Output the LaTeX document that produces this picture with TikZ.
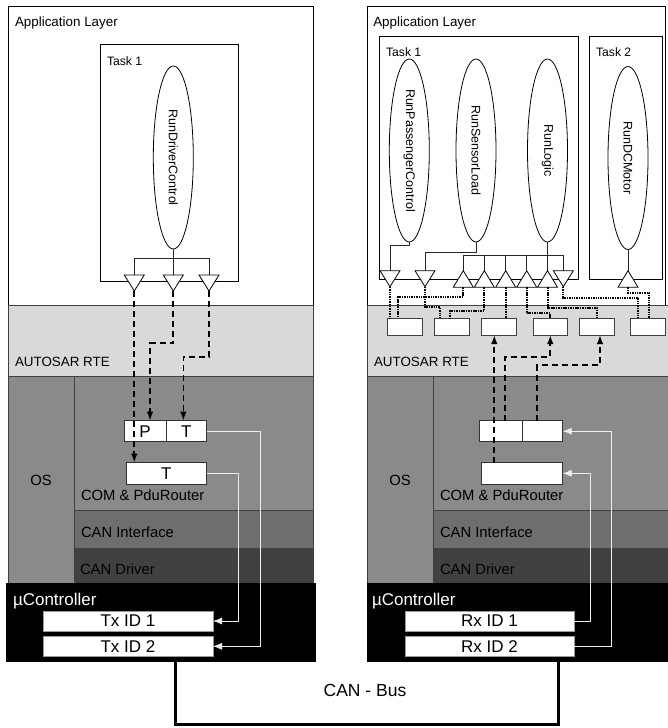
\documentclass[tikz,border=0pt]{standalone}
\usepackage{fontspec}
\setmainfont{Liberation Sans}
\usetikzlibrary{shapes.geometric,arrows.meta,calc}
\definecolor{rtegray}{HTML}{D9D9D9}
\definecolor{osgray}{HTML}{8A8A8A}
\definecolor{cifgray}{HTML}{6E6E6E}
\definecolor{drvgray}{HTML}{414141}
\definecolor{sigcol}{HTML}{EEEEEE}
\newcommand\sz[1]{\fontsize{#1}{#1}\selectfont}
\tikzset{
  layerline/.style={draw=black!75, line width=0.7pt},
  appline/.style={draw=black, line width=0.8pt, fill=white},
  lbl/.style={anchor=base west, inner sep=0pt, outer sep=0pt},
  proc/.style={ellipse, draw=black, fill=white, line width=0.8pt, rotate=-90, minimum width=183pt, minimum height=40pt, inner sep=0pt, font=\sz{12.5}},
  port/.style={draw=black!75, fill=white, line width=0.8pt, minimum width=34.6pt, minimum height=17pt, inner sep=0pt, outer sep=0pt},
  combox/.style={draw=black!80, fill=white, line width=0.8pt, minimum height=21pt, inner sep=0pt, outer sep=0pt, font=\sz{17}},
  idbox/.style={draw=black!40, fill=white, line width=0.6pt, minimum height=20pt, inner sep=0pt, outer sep=0pt, font=\sz{17}},
  wire/.style={draw=black!85, line width=0.8pt},
  tristyle/.style={draw=black, fill=white, line width=0.8pt, line join=miter},
  dotwire/.style={draw=black, line width=2pt, dash pattern=on 1.5pt off 0.9pt},
  dashwire/.style={draw=black, line width=1.7pt, dash pattern=on 6pt off 4pt, -{Latex[length=9pt,width=6.5pt]}},
  sigwire/.style={draw=sigcol, line width=0.8pt, -{Latex[length=9pt,width=7pt]}},
  buswire/.style={draw=black, line width=3pt, line join=miter},
  downtri/.pic={\draw[tristyle] (-10,0) -- (10,0) -- (0,16) -- cycle;
     \coordinate (-in) at (0,0); \coordinate (-out) at (0,16);},
  uptri/.pic={\draw[tristyle] (0,0) -- (10,16.5) -- (-10,16.5) -- cycle;
     \coordinate (-in) at (0,0); \coordinate (-out) at (0,16.5);},
}
\begin{document}
\begin{tikzpicture}[x=1pt,y=-1pt]
\useasboundingbox (0,0) rectangle (667,728);

% ================= LEFT ECU =================
\draw[appline] (8,6) rectangle (313,305);
\draw[layerline, fill=rtegray] (8,305) rectangle (313,376);
\draw[layerline, fill=osgray] (8,376) rectangle (74,583);
\draw[layerline, fill=osgray] (74,376) rectangle (313,510);
\draw[layerline, fill=cifgray] (74,510) rectangle (313,548);
\draw[layerline, fill=drvgray] (74,548) rectangle (313,583);
\fill[black] (6,583) rectangle (316,662);

\node[lbl, font=\sz{13.4}] (lapp) at (15,26.7) {Application Layer};
\draw[appline] (100,44) rectangle (238,281.7);
\node[lbl, font=\sz{12.2}] (ltask) at (107,65) {Task 1};
\node[proc] (rdc) at (173.3,157.5) {RunDriverControl};
\node[lbl, font=\sz{13.4}] (lrte) at (15,366.7) {AUTOSAR RTE};
\node[anchor=base, inner sep=0pt, font=\sz{14.8}] (los) at (41,485) {OS};
\node[lbl, font=\sz{14.8}] (lcom) at (81,500) {COM \& PduRouter};
\node[lbl, font=\sz{14.8}] (lcif) at (81,537.3) {CAN Interface};
\node[lbl, font=\sz{14.8}] (ldrv) at (80,574.3) {CAN Driver};
\node[lbl, font=\sz{17}, text=white] (lmc) at (13,605.7) {µController};

\coordinate (lt1) at (134.3,275);
\coordinate (lt2) at (173.3,275);
\coordinate (lt3) at (209,275);
\draw[wire] (rdc.east) -- (lt2);
\draw[wire] (lt1) -- ++(0,-17) -| (lt3);
\pic (dt1) at (lt1) {downtri};
\pic (dt2) at (lt2) {downtri};
\pic (dt3) at (lt3) {downtri};

\node[combox, minimum width=42pt] (pP) at (145,431.2) {P};
\node[combox, minimum width=40.7pt] (pT) at (186.35,431.2) {T};
\node[combox, minimum width=80.7pt, minimum height=21.3pt] (tlow) at (166.3,473.3) {T};

\draw[dashwire] (dt1-out) -- (dt1-out |- tlow.north);
\draw[dashwire] (dt2-out) -- ++(0,52.3) -| ([xshift=5pt]pP.north);
\draw[dashwire] (dt3-out) -- ++(0,65.7) -| ([xshift=-3pt]pT.north);

\node[idbox, minimum width=170pt] (tx1) at (128,621) {Tx ID 1};
\node[idbox, minimum width=170pt, minimum height=19.3pt] (tx2) at (128,646.3) {Tx ID 2};

\draw[sigwire] (pT.east) -- ++(53.3,0) |- (tx2.east);
\draw[sigwire] (tlow.east) -- ++(31.6,0) |- (tx1.east);

% ================= RIGHT ECU =================
\draw[appline] (367.7,6) rectangle (665,305);
\draw[layerline, fill=rtegray] (367.7,305) rectangle (668,376);
\draw[layerline, fill=osgray] (367.7,376) rectangle (433.3,583);
\draw[layerline, fill=osgray] (433.3,376) rectangle (668,510);
\draw[layerline, fill=cifgray] (433.3,510) rectangle (668,548);
\draw[layerline, fill=drvgray] (433.3,548) rectangle (668,583);
\fill[black] (366.5,583) rectangle (668,662);

\node[lbl, font=\sz{13.4}] (rapp) at (373.3,26) {Application Layer};
\draw[appline] (379.3,36.7) rectangle (578.3,279.3);
\draw[appline] (589.3,36.7) rectangle (662.7,279.3);
\node[lbl, font=\sz{12.2}] (rtask1) at (386,56) {Task 1};
\node[lbl, font=\sz{12.2}] (rtask2) at (596,56) {Task 2};
\node[proc] (rpc) at (409.3,150.5) {RunPassengerControl};
\node[proc] (rsl) at (476,150.5) {RunSensorLoad};
\node[proc] (rlg) at (547.5,150.5) {RunLogic};
\node[proc] (rdm) at (628,158) {RunDCMotor};
\node[lbl, font=\sz{13.4}] (rrte) at (374,366.7) {AUTOSAR RTE};
\node[anchor=base, inner sep=0pt, font=\sz{14.8}] (ros) at (400,485) {OS};
\node[lbl, font=\sz{14.8}] (rcom) at (440,500) {COM \& PduRouter};
\node[lbl, font=\sz{14.8}] (rcif) at (440,537.3) {CAN Interface};
\node[lbl, font=\sz{14.8}] (rdrv) at (440,574.3) {CAN Driver};
\node[lbl, font=\sz{17}, text=white] (rmc) at (372,605.7) {µController};

\coordinate (rt1) at (390,270.7);
\coordinate (rt2) at (425,270.7);
\coordinate (rt3) at (463.3,270.7);
\coordinate (rt4) at (484.3,270.7);
\coordinate (rt5) at (505.7,270.7);
\coordinate (rt6) at (526.7,270.7);
\coordinate (rt7) at (547.5,270.7);
\coordinate (rt8) at (563.3,270.7);
\coordinate (rt9) at (628,270.7);
\draw[wire] (rpc.east) -- ++(0,2.6) -| (rt1);
\draw[wire] (rsl.east) -- ++(0,10) -| (rt2);
\draw[wire] (rlg.east) -- (rt7);
\draw[wire] (rt3) -- ++(0,-15.7) -| (rt8);
\foreach \c in {rt4,rt5,rt6} \draw[wire] (\c) -- ++(0,-15.7);
\draw[wire] (rdm.east) -- (rt9);
\pic (rtr1) at (rt1) {downtri};
\pic (rtr2) at (rt2) {downtri};
\pic (rtr3) at (rt3) {uptri};
\pic (rtr4) at (rt4) {uptri};
\pic (rtr5) at (rt5) {uptri};
\pic (rtr6) at (rt6) {uptri};
\pic (rtr7) at (rt7) {uptri};
\pic (rtr8) at (rt8) {downtri};
\pic (rtr9) at (rt9) {uptri};

\node[port] (p1) at (405,326.5) {};
\node[port] (p2) at (452,326.5) {};
\node[port] (p3) at (498.8,326.5) {};
\node[port] (p4) at (550.3,326.5) {};
\node[port] (p5) at (596.8,326.5) {};
\node[port] (p6) at (647.9,326.5) {};

\draw[dotwire] (rtr1-out) -- (rtr1-out |- p1.north);
\draw[dotwire] (rtr3-out) -- ++(0,9.5) -| ([xshift=-6.7pt]p1.north);
\draw[dotwire] (rtr2-out) -- ++(0,20.3) -| ([xshift=-12pt]p2.north);
\draw[dotwire] (rtr4-out) -- ++(0,23.8) -| ([xshift=-2pt]p2.north);
\draw[dotwire] (rtr5-out) -- (rtr5-out |- p3.north);
\draw[dotwire] (rtr6-out) -- ++(0,26.1) -| (p4.north);
\draw[dotwire] (rtr7-out) -- ++(0,20.5) -| (p5.north);
\draw[dotwire] (rtr8-out) -- ++(0,11) -| ([xshift=-9.6pt]p6.north);
\draw[dotwire] (rtr9-out) -- ++(0,5.5) -| ([xshift=1.4pt]p6.north);

\node[combox, minimum width=43pt] (rupL) at (500.8,431.2) {};
\node[combox, minimum width=40.4pt] (rupR) at (542.5,431.2) {};
\node[combox, minimum width=81pt, minimum height=21.3pt] (rlow) at (522.2,473.3) {};

\coordinate (rs1) at ([xshift=-27.9pt]rlow.north);
\draw[dashwire] (rs1) -- (rs1 |- p3.south);
\draw[dashwire] ([xshift=4.2pt]rupL.north) -- ++(0,-64) -| (p4.south);
\draw[dashwire] ([xshift=-5.2pt]rupR.north) -- ++(0,-55.7) -| ([xshift=3.2pt]p5.south);

\node[idbox, minimum width=169pt] (rx1) at (489.5,621) {Rx ID 1};
\node[idbox, minimum width=169pt, minimum height=19.3pt] (rx2) at (489.5,646.3) {Rx ID 2};

\draw[sigwire] (rx1.east) -- ++(16.7,0) |- (rlow.east);
\draw[sigwire] (rx2.east) -- ++(37.7,0) |- (rupR.east);

% ================= CAN BUS =================
\coordinate (busL) at (175.7,662);
\coordinate (busR) at (558,662);
\draw[buswire] (busL) -- ++(0,62) -| (busR);
\node[font=\sz{17.5}, inner sep=0pt] (buslbl) at (365,690) {CAN - Bus};
\end{tikzpicture}
\end{document}
